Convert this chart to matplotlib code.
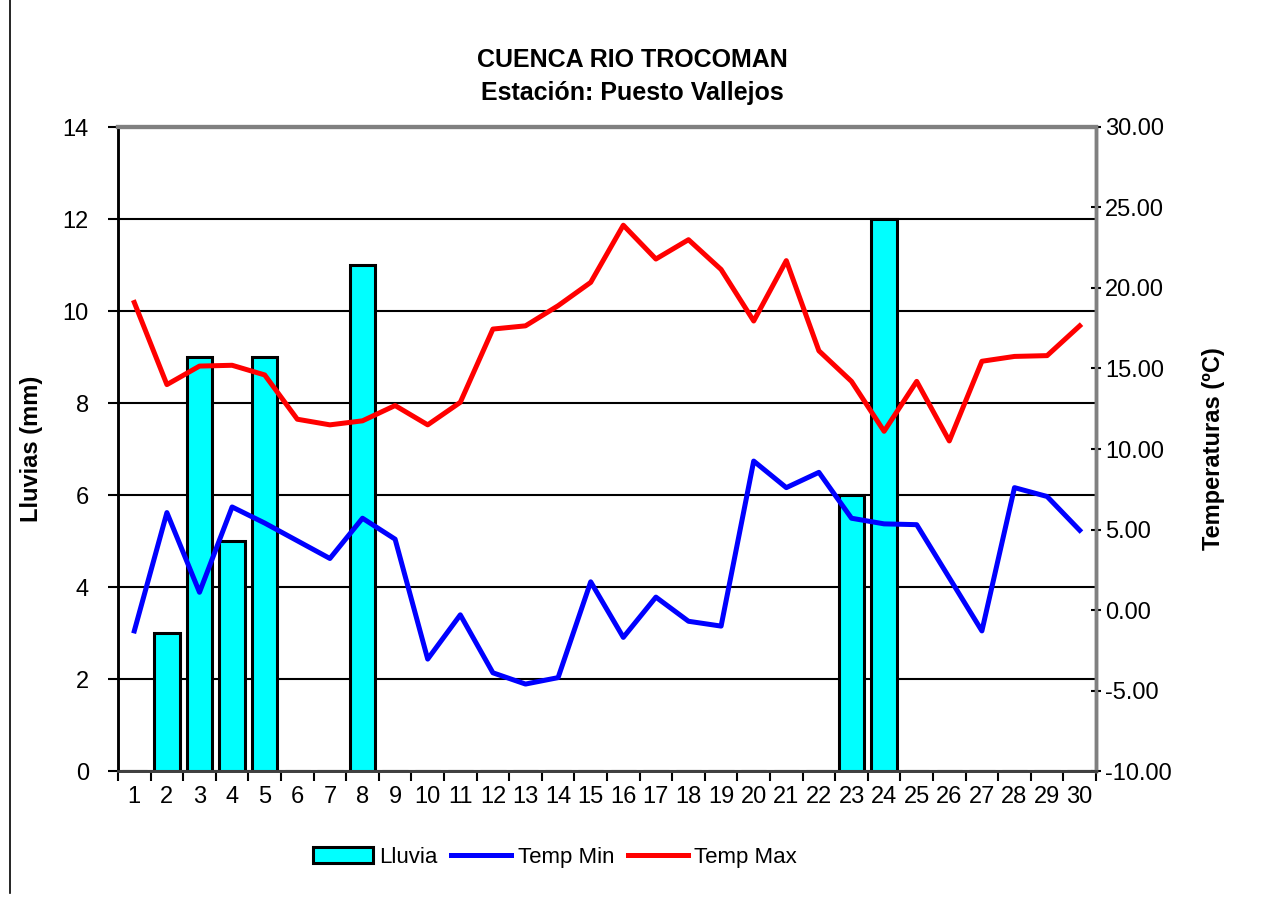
import matplotlib
matplotlib.use("Agg")
import matplotlib.pyplot as plt
import numpy as np
from matplotlib.lines import Line2D

plt.rcParams["font.family"] = ["Liberation Sans", "DejaVu Sans"]

days = list(range(1, 31))
lluvia = [0, 3, 9, 5, 9, 0, 0, 11, 0, 0, 0, 0, 0, 0, 0,
          0, 0, 0, 0, 0, 0, 0, 6, 12, 0, 0, 0, 0, 0, 0]
temp_min = [-1.3, 6.05, 1.1, 6.4, 5.4, 4.3, 3.2, 5.7, 4.4, -3.05,
            -0.3, -3.9, -4.6, -4.2, 1.75, -1.7, 0.8, -0.7, -1.0, 9.25,
            7.6, 8.55, 5.7, 5.35, 5.3, 2.0, -1.3, 7.6, 7.05, 4.95]
temp_max = [19.1, 14.0, 15.15, 15.2, 14.6, 11.85, 11.5, 11.75, 12.7, 11.5,
            12.9, 17.45, 17.65, 18.9, 20.35, 23.9, 21.8, 23.0, 21.15, 17.95,
            21.7, 16.1, 14.2, 11.1, 14.2, 10.5, 15.45, 15.75, 15.8, 17.65]

fig = plt.figure(figsize=(12.65, 8.97), dpi=100)
ax = fig.add_axes([118 / 1265, 126 / 897, 978 / 1265, 644 / 897])
x = np.arange(len(days))

# grid behind the bars
ax.set_axisbelow(True)
ax.yaxis.grid(True, color="black", linewidth=1.5)
ax.bar(x, lluvia, width=0.78, color="#00FFFF", edgecolor="black",
       linewidth=2.2, label="Lluvia")
ax.set_xlim(-0.5, len(days) - 0.5)
ax.set_ylim(0, 14)
ax.set_yticks(range(0, 15, 2))
ax.set_xticks(x)
ax.set_xticklabels([str(d) for d in days])
ax.set_xticks(np.arange(-0.5, len(days), 1), minor=True)
ax.tick_params(axis="x", which="major", length=0, labelsize=17, pad=11)
ax.tick_params(axis="x", which="minor", length=7, width=1.5, direction="out")
ax.tick_params(axis="y", length=7, width=1.5, labelsize=17, pad=14)
ax.set_ylabel("Lluvias (mm)", fontsize=17, fontweight="bold", labelpad=14)

ax2 = ax.twinx()
ax2.plot(x, temp_min, color="#0000FF", linewidth=3.6, label="Temp Min")
ax2.plot(x, temp_max, color="#FF0000", linewidth=3.6, label="Temp Max")
ax2.set_ylim(-10, 30)
ax2.set_yticks(range(-10, 31, 5))
ax2.set_yticklabels([f"{v:.2f}" for v in range(-10, 31, 5)])
ax2.tick_params(axis="y", length=7, width=1.5, labelsize=17, pad=3,
                direction="inout")
ax2.set_ylabel("Temperaturas (ºC)", fontsize=17, fontweight="bold",
               labelpad=22)

for a in (ax, ax2):
    a.spines["top"].set_color("#808080")
    a.spines["top"].set_linewidth(3)
    a.spines["right"].set_color("#808080")
    a.spines["right"].set_linewidth(2.5)
    a.spines["left"].set_linewidth(1.8)
    a.spines["bottom"].set_color("#404040")
    a.spines["bottom"].set_linewidth(2)

fig.text(0.5, 1 - 60 / 897, "CUENCA RIO TROCOMAN", ha="center", va="center",
         fontsize=18, fontweight="bold")
fig.text(0.5, 1 - 93 / 897, "Estación: Puesto Vallejos", ha="center",
         va="center", fontsize=18, fontweight="bold")

h1, l1 = ax.get_legend_handles_labels()
h2, l2 = ax2.get_legend_handles_labels()
fig.legend(h1 + h2, l1 + l2, loc="center", bbox_to_anchor=(555 / 1265, 1 - 857 / 897),
           ncol=3, frameon=False, fontsize=16, handlelength=2.7,
           handletextpad=0.3, columnspacing=0.6)

fig.add_artist(Line2D([10 / 1265, 10 / 1265], [1 - 893 / 897, 1], color="black",
                      linewidth=1.2, transform=fig.transFigure))

fig.savefig("out.png", dpi=100, facecolor="white")
